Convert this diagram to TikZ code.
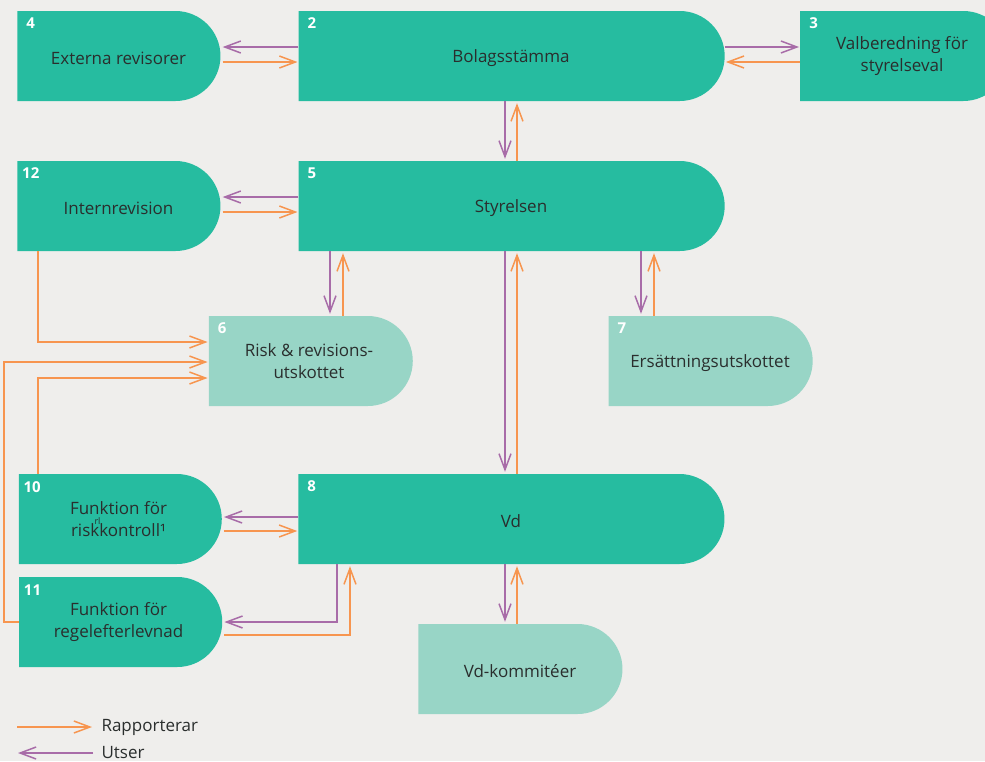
\documentclass[tikz,border=0pt]{standalone}
\usepackage{fontspec}
\setmainfont{Open Sans}
\usetikzlibrary{shapes.misc,arrows.meta,calc}
\definecolor{paper}{HTML}{EFEEEC}
\definecolor{boxteal}{HTML}{26BCA0}
\definecolor{boxmint}{HTML}{98D5C6}
\definecolor{ink}{HTML}{2A2E2D}
\definecolor{rappcol}{HTML}{F7954F}
\definecolor{utsercol}{HTML}{A86CA8}
\tikzset{
  unit/.style={rounded rectangle, rounded rectangle left arc=none,
    minimum height=90pt, minimum width=203pt, inner sep=0pt,
    fill=boxteal, text=ink, align=center,
    font=\fontsize{17}{22}\selectfont,
    execute at begin node={\rule{0pt}{18pt}}},
  wide/.style={unit, minimum width=426pt},
  pale/.style={unit, fill=boxmint},
  nr/.style={text=white, inner sep=0pt, font=\fontsize{15}{15}\selectfont\bfseries},
  legtxt/.style={anchor=west, text=ink, font=\fontsize{17}{17}\selectfont},
  rapp/.style={draw=rappcol, line width=1.5pt, -{Straight Barb[length=16pt,width=12pt]}},
  utser/.style={draw=utsercol, line width=1.5pt, -{Straight Barb[length=16pt,width=12pt]}},
}
\begin{document}
\begin{tikzpicture}[x=1pt,y=-1pt]
  \clip (0,0) rectangle (985,761);
  \fill[paper] (0,0) rectangle (985,761);
  %% top row
  \node[unit] (ext) at (118.5,56) {Externa revisorer};
  \node[wide] (bol) at (511,56) {Bolagsstämma};
  \node[unit, minimum width=208pt] (val) at (902,56) {Valberedning för\\styrelseval};
  %% board row
  \node[unit] (int) at (118.5,206) {Internrevision};
  \node[wide] (sty) at (511,206) {Styrelsen};
  %% committees
  \node[pale, minimum width=204pt] (risk) at (309,361) {Risk \& revisions-\\utskottet};
  \node[pale, minimum width=204pt] (ers) at (710,361) {Ersättningsutskottet};
  %% management
  \node[unit] (fkr) at (118.5,519) {Funktion för\\riskkontroll¹};
  \node[inner sep=0pt, text=ink, font=\fontsize{9}{9}\selectfont] (rl) at ($(fkr.center)+(-21,2)$) {rl};
  \node[wide] (vd) at (511,519) {Vd};
  \node[unit] (fre) at (118.5,622) {Funktion för\\regelefterlevnad};
  \node[pale, minimum width=204pt] (vdk) at (520,669) {Vd-kommitéer};
  %% numbers
  \node[nr] (n4) at ($(ext.north west)+(13.5,12)$) {4};
  \node[nr] (n2) at ($(bol.north west)+(13.5,12)$) {2};
  \node[nr] (n3) at ($(val.north west)+(13.5,12)$) {3};
  \node[nr] (n12) at ($(int.north west)+(13.5,12)$) {12};
  \node[nr] (n5) at ($(sty.north west)+(13.5,12)$) {5};
  \node[nr] (n6) at ($(risk.north west)+(13.5,12)$) {6};
  \node[nr] (n7) at ($(ers.north west)+(13.5,12)$) {7};
  \node[nr] (n10) at ($(fkr.north west)+(13.5,13)$) {10};
  \node[nr] (n8) at ($(vd.north west)+(13.5,12)$) {8};
  \node[nr] (n11) at ($(fre.north west)+(13.5,13)$) {11};
  %% top row arrows
  \draw[utser] ($(bol.west)+(0,-9)$) -- ($(ext.east)+(2,-9)$);
  \draw[rapp] ($(ext.east)+(2,6)$) -- ($(bol.west)+(-1,6)$);
  \draw[utser] ($(bol.east)+(0,-9)$) -- ($(val.west)+(-1,-9)$);
  \draw[rapp] ($(val.west)+(0,6)$) -- ($(bol.east)+(1,6)$);
  \draw[utser] ($(bol.south)+(-6,0)$) -- ($(sty.north)+(-6,-2)$);
  \draw[rapp] ($(sty.north)+(6,0)$) -- ($(bol.south)+(6,2)$);
  %% board arrows
  \draw[utser] ($(sty.west)+(0,-9)$) -- ($(int.east)+(2,-9)$);
  \draw[rapp] ($(int.east)+(2,6)$) -- ($(sty.west)+(-1,6)$);
  \draw[utser] ($(sty.south)+(-181,0)$) -- ($(risk.north)+(21,-2)$);
  \draw[rapp] ($(risk.north)+(34,0)$) -- ($(sty.south)+(-168,2)$);
  \draw[utser] ($(sty.south)+(130,0)$) -- ($(ers.north)+(-69,-2)$);
  \draw[rapp] ($(ers.north)+(-56,0)$) -- ($(sty.south)+(143,2)$);
  \draw[utser] ($(sty.south)+(-6,0)$) -- ($(vd.north)+(-6,-2)$);
  \draw[rapp] ($(vd.north)+(6,0)$) -- ($(sty.south)+(6,2)$);
  %% reports to risk committee
  \draw[rapp] ($(int.south)+(-80.5,0)$) |- ($(risk.west)+(-1,-19)$);
  \draw[rapp] (fre.west) -- ++(-15,0) |- ($(risk.west)+(-1,1)$);
  \draw[rapp] ($(fkr.north)+(-80.5,0)$) |- ($(risk.west)+(-1,17)$);
  %% management arrows
  \draw[utser] ($(vd.west)+(0,-2)$) -- ($(fkr.east)+(2,-2)$);
  \draw[rapp] ($(fkr.east)+(2,12)$) -- ($(vd.west)+(-1,12)$);
  \draw[utser] ($(vd.south)+(-174,0)$) |- ($(fre.east)+(2,0)$);
  \draw[rapp] ($(fre.east)+(2,13)$) -| ($(vd.south)+(-161,2)$);
  \draw[utser] ($(vd.south)+(-6,0)$) -- ($(vdk.north)+(-15,-2)$);
  \draw[rapp] ($(vdk.north)+(-3,0)$) -- ($(vd.south)+(6,2)$);
  %% legend
  \node[legtxt] (rapptxt) at (98,727) {Rapporterar};
  \node[legtxt] (utsertxt) at (98,753) {Utser};
  \coordinate (rappstart) at (17,727);
  \coordinate (utserend) at (18,753);
  \draw[rapp] (rappstart) -- ([xshift=-6pt]rapptxt.west);
  \draw[utser] ([xshift=-5pt]utsertxt.west) -- (utserend);
\end{tikzpicture}
\end{document}
